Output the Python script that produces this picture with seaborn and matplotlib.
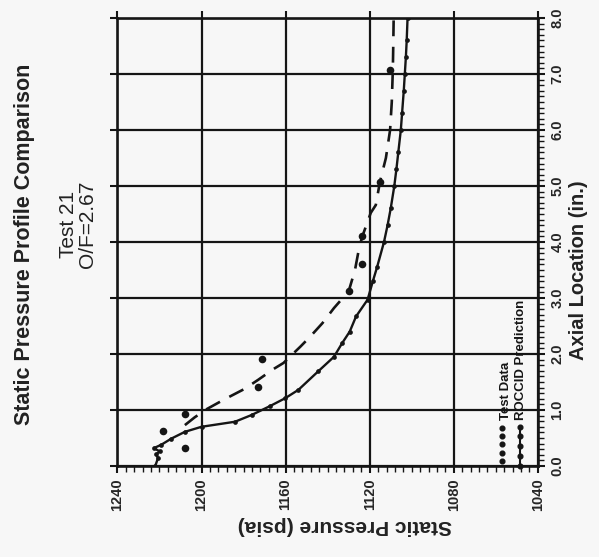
import matplotlib
matplotlib.use("Agg")
import matplotlib.pyplot as plt
from matplotlib.ticker import MultipleLocator, FixedLocator
import seaborn as sns
import pandas as pd

# ---- data ----
pred_axial = [0.0, 0.14, 0.21, 0.26, 0.32, 0.38, 0.49, 0.61, 0.70, 0.79, 0.91, 1.07, 1.21,
              1.36, 1.69, 1.95, 2.2, 2.4, 2.67, 2.97, 3.3, 3.55, 4.0, 4.3, 4.6, 5.0, 5.3,
              5.6, 6.0, 6.3, 6.7, 7.0, 7.3, 7.6, 8.0]
pred_press = [1222.0, 1220.7, 1221.5, 1219.9, 1222.6, 1219.1, 1214.3, 1207.9, 1200.0, 1184.1,
              1176.2, 1167.4, 1160.2, 1153.9, 1144.5, 1137.0, 1133.0, 1129.5, 1126.5, 1121.0,
              1118.5, 1116.5, 1113.2, 1111.5, 1110.0, 1108.3, 1107.3, 1106.4, 1105.2, 1104.6,
              1103.8, 1103.3, 1102.8, 1102.4, 1102.0]

dash_axial = [0.73, 0.87, 1.02, 1.19, 1.375, 1.54, 1.73, 1.84, 2.13, 2.31, 2.55, 2.82, 3.12,
              3.5, 3.9, 4.1, 4.52, 4.66, 5.08, 5.5, 6.0, 6.5, 7.07, 7.5, 8.0]
dash_press = [1207.9, 1203.2, 1197.3, 1189.1, 1179.6, 1173.0, 1165.8, 1161.0, 1153.0, 1148.3,
              1142.5, 1137.0, 1130.0, 1127.0, 1125.0, 1123.5, 1119.5, 1117.1, 1115.1, 1112.3,
              1110.3, 1109.5, 1109.0, 1108.8, 1108.6]

test_axial = [0.33, 0.63, 0.92, 1.405, 1.905, 3.12, 3.6, 4.1, 5.08, 7.07]
test_press = [1207.9, 1218.3, 1207.9, 1173.0, 1171.4, 1129.9, 1123.5, 1123.5, 1115.1, 1110.3]

press_ticks = [1240, 1200, 1160, 1120, 1080, 1040]
axial_ticks = [0, 1, 2, 3, 4, 5, 6, 7, 8]
axial_labels = ["0.0", "1.0", "2.0", "3.0", "4.0", "5.0", "6.0", "7.0", "8.0"]

title = "Static Pressure Profile Comparison"
sub1 = "Test 21"
sub2 = "O/F=2.67"
xlabel = "Static Pressure (psia)"
ylabel = "Axial Location (in.)"
legend_labels = ["Test Data", "ROCCID Prediction"]

# ---- style ----
sns.set_style("white")
plt.rcParams["font.family"] = ["Liberation Sans", "DejaVu Sans"]
bg = "#f7f7f7"
ink = "#151515"

fig = plt.figure(figsize=(5.99, 5.57), dpi=100, facecolor=bg)
ax = fig.add_axes([0.196, 0.1634, 0.702, 0.8043], facecolor=bg)

pred_df = pd.DataFrame({"p": pred_press, "a": pred_axial})
dash_df = pd.DataFrame({"p": dash_press, "a": dash_axial})
test_df = pd.DataFrame({"p": test_press, "a": test_axial})

sns.lineplot(data=pred_df, x="p", y="a", sort=False, estimator=None, ax=ax,
             color=ink, lw=1.7, marker="o", markersize=3.4, markeredgewidth=0)
sns.lineplot(data=dash_df, x="p", y="a", sort=False, estimator=None, ax=ax,
             color=ink, lw=1.9, dashes=[(6, 4)], style=[0] * len(dash_df), legend=False)
sns.scatterplot(data=test_df, x="p", y="a", ax=ax, color=ink, s=30, linewidth=0, zorder=5)

ax.set_xlim(1240, 1040)
ax.set_ylim(0, 8)
ax.xaxis.set_major_locator(FixedLocator(press_ticks))
ax.xaxis.set_minor_locator(MultipleLocator(4))
ax.yaxis.set_major_locator(FixedLocator(axial_ticks))
ax.yaxis.set_minor_locator(MultipleLocator(0.1))
ax.set_xticklabels([str(t) for t in press_ticks], rotation=90, fontsize=10.5, fontweight="bold")
ax.yaxis.tick_right()
ax.set_yticklabels(axial_labels, rotation=90, fontsize=10.5, fontweight="bold", va="center")
ax.set_xlabel("")
ax.set_ylabel("")

ax.grid(True, which="major", color=ink, lw=1.6)
for s in ax.spines.values():
    s.set_color(ink)
    s.set_linewidth(1.9)

ax.tick_params(which="major", direction="out", length=5, width=1.5, color=ink,
               top=True, bottom=True, left=True, right=True,
               labeltop=False, labelleft=False, labelbottom=True, labelright=True, pad=4)
ax.tick_params(which="minor", direction="out", length=4, width=1.0, color=ink,
               top=False, left=False, bottom=True, right=True)

# ---- legend (rotated, drawn inside the axes) ----
tr = ax.transAxes
ax.plot([0.914] * 5, [0.012, 0.030, 0.048, 0.066, 0.084], transform=tr, ls="none",
        marker="o", markersize=3.4, color=ink, clip_on=False)
ax.plot([0.957] * 5, [0.0, 0.022, 0.044, 0.066, 0.088], transform=tr, ls="-", lw=1.5,
        marker="o", markersize=3.4, color=ink, clip_on=False)
ax.text(0.924, 0.103, legend_labels[0], transform=tr, rotation=90, ha="center", va="bottom",
        fontsize=9.5, fontweight="bold", color=ink)
ax.text(0.960, 0.103, legend_labels[1], transform=tr, rotation=90, ha="center", va="bottom",
        fontsize=9.5, fontweight="bold", color=ink)

# ---- texts ----
fig.text(25 / 599, 1 - 244 / 557, title, rotation=90, ha="center", va="center",
         fontsize=15.5, fontweight="bold", color="#222222")
fig.text(68 / 599, 1 - 224 / 557, sub1, rotation=90, ha="center", va="center",
         fontsize=15, color="#222222")
fig.text(88 / 599, 1 - 224 / 557, sub2, rotation=90, ha="center", va="center",
         fontsize=15, color="#222222")
fig.text(345 / 599, 1 - 525 / 557, xlabel, rotation=180, ha="center", va="center",
         fontsize=15, fontweight="bold", color="#222222")
fig.text(578 / 599, 1 - 270 / 557, ylabel, rotation=90, ha="center", va="center",
         fontsize=14.5, fontweight="bold", color="#222222")

fig.savefig("out.png", dpi=100, facecolor=bg)
